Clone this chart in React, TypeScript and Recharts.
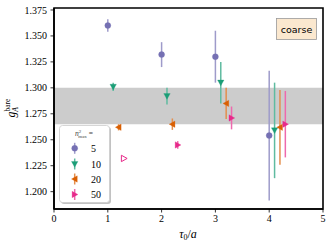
import React from "react";
import {
  ComposedChart,
  Scatter,
  XAxis,
  YAxis,
  ErrorBar,
  ReferenceArea,
} from "recharts";

// ---- data ----
const TAU_5 = [1.0, 2.0, 3.0, 4.0];
const G_5 = [1.36, 1.332, 1.33, 1.254];
const ERR_5 = [0.006, 0.012, 0.025, 0.0625];

const TAU_10 = [1.1, 2.1, 3.1, 4.1];
const G_10 = [1.301, 1.292, 1.305, 1.259];
const ERR_10 = [0.004, 0.008, 0.02, 0.046];

const TAU_20 = [1.2, 2.2, 3.2, 4.2];
const G_20 = [1.262, 1.265, 1.285, 1.262];
const ERR_20 = [0.003, 0.0055, 0.015, 0.036];

const TAU_50 = [2.3, 3.3, 4.3];
const G_50 = [1.245, 1.271, 1.265];
const ERR_50 = [0.0037, 0.011, 0.032];

const TAU_50_OPEN = [1.3];
const G_50_OPEN = [1.232];

const BAND = [1.265, 1.3];

const SERIES_LABELS = ["5", "10", "20", "50"];
const X_TICKS = [0, 1, 2, 3, 4, 5];
const Y_TICKS = [1.2, 1.225, 1.25, 1.275, 1.3, 1.325, 1.35, 1.375];
const X_DOMAIN = [0, 5];
const Y_DOMAIN = [1.1833, 1.3769];

const COLORS = ["#7570b3", "#1b9e77", "#d95f02", "#e7298a"];
const ERR_COLORS = ["#9e9bca", "#5fbba0", "#e48f4e", "#ee69ad"];
const KINDS = ["circle", "down", "left", "right"];

const build = (xs: number[], ys: number[], es?: number[]) =>
  xs.map((x, i) => ({ x, y: ys[i], err: es ? es[i] : 0 }));

const seriesData = [
  build(TAU_5, G_5, ERR_5),
  build(TAU_10, G_10, ERR_10),
  build(TAU_20, G_20, ERR_20),
  build(TAU_50, G_50, ERR_50),
];
const openData = build(TAU_50_OPEN, G_50_OPEN);

function markerEl(
  kind: string,
  cx: number,
  cy: number,
  color: string,
  hollow = false
) {
  const fill = hollow ? "none" : color;
  const stroke = color;
  const sw = hollow ? 1 : 0.3;
  const s = 3.2;
  switch (kind) {
    case "circle":
      return <circle cx={cx} cy={cy} r={3} fill={fill} stroke={stroke} strokeWidth={sw} />;
    case "down":
      return (
        <polygon
          points={`${cx - s},${cy - s * 0.8} ${cx + s},${cy - s * 0.8} ${cx},${cy + s}`}
          fill={fill}
          stroke={stroke}
          strokeWidth={sw}
        />
      );
    case "left":
      return (
        <polygon
          points={`${cx - s},${cy} ${cx + s * 0.8},${cy - s} ${cx + s * 0.8},${cy + s}`}
          fill={fill}
          stroke={stroke}
          strokeWidth={sw}
        />
      );
    default:
      return (
        <polygon
          points={`${cx + s},${cy} ${cx - s * 0.8},${cy - s} ${cx - s * 0.8},${cy + s}`}
          fill={fill}
          stroke={stroke}
          strokeWidth={sw}
        />
      );
  }
}

const SERIF = "Liberation Serif, serif";
const tickStyle = { fontSize: 10, fill: "#000", style: { fontFamily: SERIF } };
const serifStyle = { fontFamily: SERIF };

export default function App() {
  const legendYs = [148.3, 164, 179, 194.5];
  return (
    <div
      style={{
        position: "absolute",
        left: 0,
        top: 0,
        width: 332,
        height: 247,
        background: "#fff",
        fontFamily: SERIF,
      }}
    >
      <ComposedChart
        width={332}
        height={247}
        margin={{ top: 8, right: 9, bottom: 0, left: 0 }}
        style={serifStyle}
      >
        <XAxis
          type="number"
          dataKey="x"
          domain={X_DOMAIN}
          ticks={X_TICKS}
          allowDataOverflow
          height={38}
          tickSize={3.5}
          tickMargin={2}
          tick={tickStyle}
          axisLine={{ stroke: "#000", strokeWidth: 1.6 }}
          tickLine={{ stroke: "#000", strokeWidth: 0.8 }}
        />
        <YAxis
          type="number"
          dataKey="y"
          domain={Y_DOMAIN}
          ticks={Y_TICKS}
          allowDataOverflow
          width={54}
          tickSize={3.5}
          tickMargin={3.5}
          tick={tickStyle}
          tickFormatter={(v: number) => v.toFixed(3)}
          axisLine={{ stroke: "#000", strokeWidth: 1.6 }}
          tickLine={{ stroke: "#000", strokeWidth: 0.8 }}
        />
        <ReferenceArea
          y1={BAND[0]}
          y2={BAND[1]}
          x1={X_DOMAIN[0]}
          x2={X_DOMAIN[1]}
          fill="#cccccc"
          fillOpacity={1}
          stroke="none"
          ifOverflow="hidden"
        />
        <ReferenceArea
          x1={X_DOMAIN[0]}
          x2={X_DOMAIN[1]}
          y1={Y_DOMAIN[0]}
          y2={Y_DOMAIN[1]}
          fill="none"
          stroke="#000"
          strokeWidth={1.6}
          ifOverflow="visible"
        />
        {seriesData.map((d, i) => (
          <Scatter
            key={SERIES_LABELS[i]}
            name={SERIES_LABELS[i]}
            data={d}
            isAnimationActive={false}
            shape={(p: any) => markerEl(KINDS[i], p.cx, p.cy, COLORS[i])}
          >
            <ErrorBar
              dataKey="err"
              direction="y"
              width={0}
              stroke={ERR_COLORS[i]}
              strokeWidth={1.5}
            />
          </Scatter>
        ))}
        <Scatter
          name="50-open"
          data={openData}
          isAnimationActive={false}
          shape={(p: any) => markerEl("right", p.cx, p.cy, COLORS[3], true)}
        />
      </ComposedChart>

      <svg
        width={332}
        height={247}
        style={{ position: "absolute", left: 0, top: 0, pointerEvents: "none", fontFamily: SERIF }}
      >
        {/* y label */}
        <text
          transform="translate(15,108) rotate(-90)"
          textAnchor="middle"
          fontSize={11.5}
          fill="#000"
          style={serifStyle}
        >
          <tspan fontStyle="italic">g</tspan>
          <tspan fontSize={7.5} fontStyle="italic" dy={2.5}>A</tspan>
          <tspan fontSize={7.5} dy={-7.5} dx={-4.5}>bare</tspan>
        </text>
        {/* x label */}
        <text x={188} y={238} textAnchor="middle" fontSize={12} fill="#000" style={serifStyle}>
          <tspan fontStyle="italic">τ</tspan>
          <tspan fontSize={8} dy={2}>0</tspan>
          <tspan dy={-2}>/</tspan>
          <tspan fontStyle="italic">a</tspan>
        </text>
        {/* coarse box */}
        <rect x={276.5} y={18.5} width={40} height={21} fill="#fbe8cf" stroke="#9a9a9a" strokeWidth={0.8} />
        <text
          x={296.5}
          y={32.5}
          textAnchor="middle"
          fontSize={9.5}
          fill="#000"
          style={{ fontFamily: "DejaVu Sans, sans-serif" }}
        >
          coarse
        </text>
        {/* legend */}
        <rect x={61} y={127} width={50} height={77} rx={3} fill="#9a9a9a" fillOpacity={0.6} />
        <rect x={59.5} y={125.5} width={50} height={77} rx={3} fill="#fff" stroke="#cccccc" strokeWidth={0.8} />
        <text x={84} y={136} textAnchor="middle" fontSize={7.5} fill="#444" style={serifStyle}>
          <tspan fontStyle="italic">n</tspan>
          <tspan fontSize={5} dy={-3}>2</tspan>
          <tspan fontSize={5} dy={5} dx={-3}>max</tspan>
          <tspan dy={-2}> =</tspan>
        </text>
        {SERIES_LABELS.map((lab, i) => (
          <g key={lab}>
            <line
              x1={74.7}
              x2={74.7}
              y1={legendYs[i] - 5.5}
              y2={legendYs[i] + 5.5}
              stroke={ERR_COLORS[i]}
              strokeWidth={1.5}
            />
            {markerEl(KINDS[i], 74.7, legendYs[i], COLORS[i])}
            <text x={91} y={legendYs[i] + 3.5} fontSize={10} fill="#000" style={serifStyle}>
              {lab}
            </text>
          </g>
        ))}
      </svg>
    </div>
  );
}
